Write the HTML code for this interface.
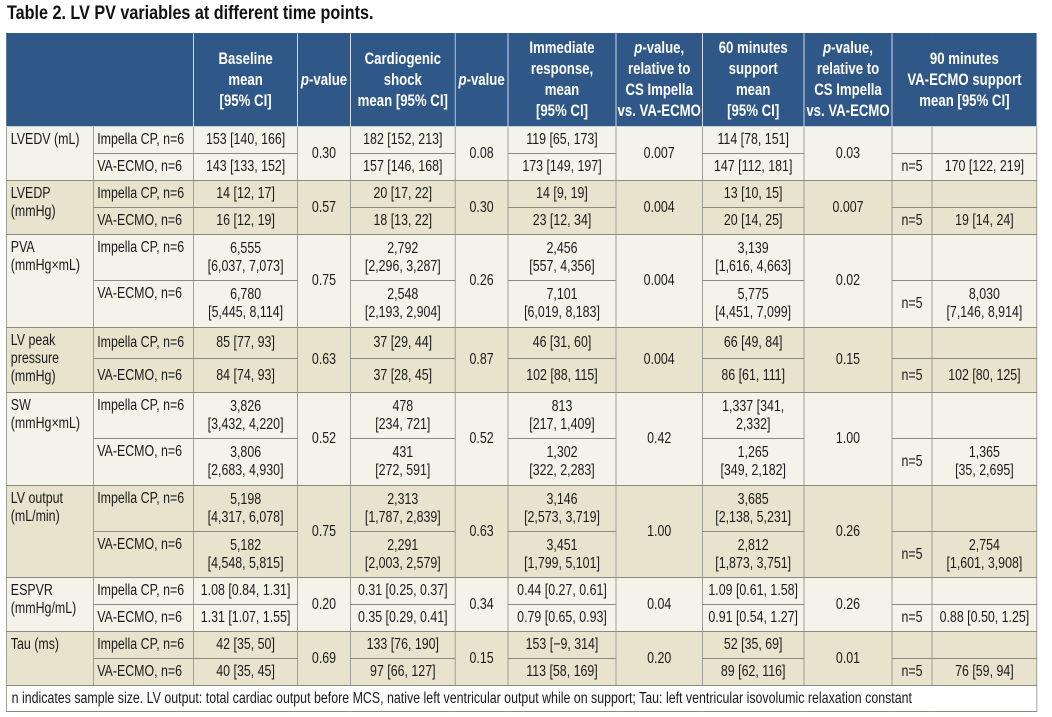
<!DOCTYPE html>
<html><head><meta charset="utf-8">
<style>
html,body{margin:0;padding:0;background:#fff;}
body{width:1052px;height:717px;position:relative;overflow:hidden;font-family:"Liberation Sans Narrow","Liberation Sans",sans-serif;}
#title{position:absolute;left:7px;top:3px;font-size:19px;font-weight:bold;color:#111;transform:scaleX(0.85);transform-origin:0 0;white-space:nowrap;}
#wrap{position:absolute;left:6px;top:33px;width:1288px;transform:scaleX(0.8);transform-origin:0 0;}
table{border-collapse:collapse;table-layout:fixed;width:1288px;font-size:15.5px;color:#1a1a1a;}
td,th{border:1px solid #8a8a80;padding:0 3px;text-align:center;vertical-align:middle;line-height:18px;overflow:hidden;white-space:nowrap;}
th{background:#2f5889;color:#fff;font-weight:bold;font-size:16.5px;line-height:21px;border-color:#c8d0dc;border-top:1px solid #2f5889;padding:0 1px;}
th.l{border-left:1px solid #2f5889;}
td.lab{text-align:left;vertical-align:top;padding:4px 5px;line-height:18px;}
td.grp{text-align:left;vertical-align:top;padding:4px 4px;}
td.grp1{text-align:left;vertical-align:middle;padding:0 4px;}
.a td{background:#f4f3ea;}
.b td{background:#e8e3cc;}
.fn td{background:#fff;text-align:left;padding:0 6px;font-size:15.5px;}
</style></head><body>
<div id="title">Table 2. LV PV variables at different time points.</div>
<div id="wrap">
<table>
<colgroup><col style="width:109px"><col style="width:125px"><col style="width:130px"><col style="width:66px"><col style="width:131px"><col style="width:66px"><col style="width:135px"><col style="width:108px"><col style="width:127px"><col style="width:110px"><col style="width:50px"><col style="width:131px"></colgroup>
<tr style="height:93px">
<th class="l" colspan="2"></th>
<th>Baseline<br>mean<br>[95% CI]</th>
<th><i>p</i>-value</th>
<th>Cardiogenic<br>shock<br>mean [95% CI]</th>
<th><i>p</i>-value</th>
<th>Immediate<br>response,<br>mean<br>[95% CI]</th>
<th><i>p</i>-value,<br>relative to<br>CS Impella<br>vs. VA-ECMO</th>
<th>60 minutes<br>support<br>mean<br>[95% CI]</th>
<th><i>p</i>-value,<br>relative to<br>CS Impella<br>vs. VA-ECMO</th>
<th colspan="2">90 minutes<br>VA-ECMO support<br>mean [95% CI]</th>
</tr>
<tr class="a" style="height:27px"><td class="lab" rowspan="2">LVEDV (mL)</td><td class="grp1">Impella CP, n=6</td><td>153 [140, 166]</td><td rowspan="2">0.30</td><td>182 [152, 213]</td><td rowspan="2">0.08</td><td>119 [65, 173]</td><td rowspan="2">0.007</td><td>114 [78, 151]</td><td rowspan="2">0.03</td><td></td><td></td></tr>
<tr class="a" style="height:27px"><td class="grp1">VA-ECMO, n=6</td><td>143 [133, 152]</td><td>157 [146, 168]</td><td>173 [149, 197]</td><td>147 [112, 181]</td><td>n=5</td><td>170 [122, 219]</td></tr>
<tr class="b" style="height:27px"><td class="lab" rowspan="2">LVEDP<br>(mmHg)</td><td class="grp1">Impella CP, n=6</td><td>14 [12, 17]</td><td rowspan="2">0.57</td><td>20 [17, 22]</td><td rowspan="2">0.30</td><td>14 [9, 19]</td><td rowspan="2">0.004</td><td>13 [10, 15]</td><td rowspan="2">0.007</td><td></td><td></td></tr>
<tr class="b" style="height:27px"><td class="grp1">VA-ECMO, n=6</td><td>16 [12, 19]</td><td>18 [13, 22]</td><td>23 [12, 34]</td><td>20 [14, 25]</td><td>n=5</td><td>19 [14, 24]</td></tr>
<tr class="a" style="height:46px"><td class="lab" rowspan="2">PVA<br>(mmHg×mL)</td><td class="grp">Impella CP, n=6</td><td>6,555<br>[6,037, 7,073]</td><td rowspan="2">0.75</td><td>2,792<br>[2,296, 3,287]</td><td rowspan="2">0.26</td><td>2,456<br>[557, 4,356]</td><td rowspan="2">0.004</td><td>3,139<br>[1,616, 4,663]</td><td rowspan="2">0.02</td><td></td><td></td></tr>
<tr class="a" style="height:47px"><td class="grp">VA-ECMO, n=6</td><td>6,780<br>[5,445, 8,114]</td><td>2,548<br>[2,193, 2,904]</td><td>7,101<br>[6,019, 8,183]</td><td>5,775<br>[4,451, 7,099]</td><td>n=5</td><td>8,030<br>[7,146, 8,914]</td></tr>
<tr class="b" style="height:31px"><td class="lab" rowspan="2">LV peak<br>pressure<br>(mmHg)</td><td class="grp1">Impella CP, n=6</td><td>85 [77, 93]</td><td rowspan="2">0.63</td><td>37 [29, 44]</td><td rowspan="2">0.87</td><td>46 [31, 60]</td><td rowspan="2">0.004</td><td>66 [49, 84]</td><td rowspan="2">0.15</td><td></td><td></td></tr>
<tr class="b" style="height:34px"><td class="grp1">VA-ECMO, n=6</td><td>84 [74, 93]</td><td>37 [28, 45]</td><td>102 [88, 115]</td><td>86 [61, 111]</td><td>n=5</td><td>102 [80, 125]</td></tr>
<tr class="a" style="height:46px"><td class="lab" rowspan="2">SW<br>(mmHg×mL)</td><td class="grp">Impella CP, n=6</td><td>3,826<br>[3,432, 4,220]</td><td rowspan="2">0.52</td><td>478<br>[234, 721]</td><td rowspan="2">0.52</td><td>813<br>[217, 1,409]</td><td rowspan="2">0.42</td><td>1,337 [341,<br>2,332]</td><td rowspan="2">1.00</td><td></td><td></td></tr>
<tr class="a" style="height:47px"><td class="grp">VA-ECMO, n=6</td><td>3,806<br>[2,683, 4,930]</td><td>431<br>[272, 591]</td><td>1,302<br>[322, 2,283]</td><td>1,265<br>[349, 2,182]</td><td>n=5</td><td>1,365<br>[35, 2,695]</td></tr>
<tr class="b" style="height:46px"><td class="lab" rowspan="2">LV output<br>(mL/min)</td><td class="grp">Impella CP, n=6</td><td>5,198<br>[4,317, 6,078]</td><td rowspan="2">0.75</td><td>2,313<br>[1,787, 2,839]</td><td rowspan="2">0.63</td><td>3,146<br>[2,573, 3,719]</td><td rowspan="2">1.00</td><td>3,685<br>[2,138, 5,231]</td><td rowspan="2">0.26</td><td></td><td></td></tr>
<tr class="b" style="height:46px"><td class="grp">VA-ECMO, n=6</td><td>5,182<br>[4,548, 5,815]</td><td>2,291<br>[2,003, 2,579]</td><td>3,451<br>[1,799, 5,101]</td><td>2,812<br>[1,873, 3,751]</td><td>n=5</td><td>2,754<br>[1,601, 3,908]</td></tr>
<tr class="a" style="height:27px"><td class="lab" rowspan="2">ESPVR<br>(mmHg/mL)</td><td class="grp1">Impella CP, n=6</td><td>1.08 [0.84, 1.31]</td><td rowspan="2">0.20</td><td>0.31 [0.25, 0.37]</td><td rowspan="2">0.34</td><td>0.44 [0.27, 0.61]</td><td rowspan="2">0.04</td><td>1.09 [0.61, 1.58]</td><td rowspan="2">0.26</td><td></td><td></td></tr>
<tr class="a" style="height:27px"><td class="grp1">VA-ECMO, n=6</td><td>1.31 [1.07, 1.55]</td><td>0.35 [0.29, 0.41]</td><td>0.79 [0.65, 0.93]</td><td>0.91 [0.54, 1.27]</td><td>n=5</td><td>0.88 [0.50, 1.25]</td></tr>
<tr class="b" style="height:27px"><td class="lab" rowspan="2">Tau (ms)</td><td class="grp1">Impella CP, n=6</td><td>42 [35, 50]</td><td rowspan="2">0.69</td><td>133 [76, 190]</td><td rowspan="2">0.15</td><td>153 [−9, 314]</td><td rowspan="2">0.20</td><td>52 [35, 69]</td><td rowspan="2">0.01</td><td></td><td></td></tr>
<tr class="b" style="height:27px"><td class="grp1">VA-ECMO, n=6</td><td>40 [35, 45]</td><td>97 [66, 127]</td><td>113 [58, 169]</td><td>89 [62, 116]</td><td>n=5</td><td>76 [59, 94]</td></tr>
<tr class="fn" style="height:26px"><td colspan="12">n indicates sample size. LV output: total cardiac output before MCS, native left ventricular output while on support; Tau: left ventricular isovolumic relaxation constant</td></tr>
</table>
</div>
</body></html>
